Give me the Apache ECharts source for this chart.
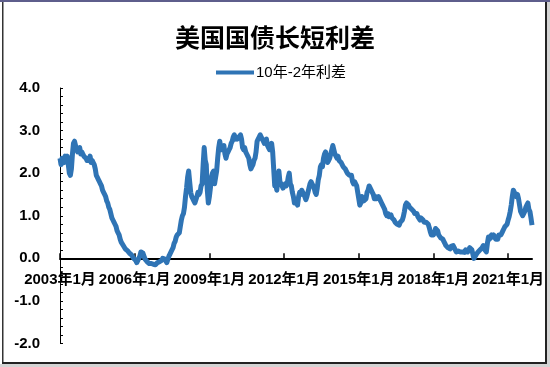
<!DOCTYPE html>
<html>
<head>
<meta charset="utf-8">
<script src="https://cdn.jsdelivr.net/npm/echarts@6/dist/echarts.min.js"></script>
<style>
html,body{margin:0;padding:0;background:#fff;}
#chart{width:550px;height:367px;}
</style>
</head>
<body>
<div id="chart"></div>
<script>
const titleText = '美国国债长短利差';
const seriesName = '10年-2年利差';
const yTickLabels = ['-2.0','-1.0','0.0','1.0','2.0','3.0','4.0'];
const xTickYears = [2003, 2006, 2009, 2012, 2015, 2018, 2021];
const startYear = 2003;

// semi-monthly values (1st half, 2nd half of each month), Jan..Dec
const y2003 = [2.35,2.2, 2.35,2.3, 2.25,2.4, 2.35,2.4, 2.2,2.0, 1.95,2.1, 2.45,2.7, 2.75,2.65, 2.55,2.5, 2.55,2.6, 2.45,2.5, 2.45,2.4];
const y2004 = [2.4,2.35, 2.3,2.35, 2.3,2.4, 2.25,2.3, 2.25,2.2, 2.1,1.95, 1.9,1.85, 1.8,1.75, 1.7,1.6, 1.55,1.5, 1.45,1.35, 1.3,1.2];
const y2005 = [1.15,1.05, 0.95,0.9, 0.85,0.8, 0.75,0.65, 0.6,0.55, 0.45,0.38, 0.35,0.3, 0.28,0.22, 0.2,0.18, 0.15,0.12, 0.1,0.08, 0.05,0.0];
const y2006 = [0.02,-0.05, -0.1,-0.08, 0.0,0.05, 0.15,0.18, 0.12,0.05, -0.02,-0.05, -0.08,-0.1, -0.12,-0.1, -0.12,-0.15, -0.14,-0.16, -0.15,-0.12, -0.1,-0.12];
const y2007 = [-0.08,-0.1, -0.05,0.0, 0.02,-0.02, -0.05,-0.1, -0.02,0.05, 0.1,0.15, 0.15,0.25, 0.35,0.4, 0.5,0.55, 0.55,0.6, 0.75,0.9, 1.0,1.05];
const y2008 = [1.2,1.45, 1.65,1.9, 2.05,1.8, 1.55,1.45, 1.4,1.35, 1.3,1.3, 1.45,1.55, 1.5,1.55, 1.7,1.75, 2.2,2.6, 2.3,2.2, 1.6,1.3];
const y2009 = [1.45,1.65, 1.9,2.0, 2.05,1.75, 1.9,2.05, 2.35,2.6, 2.75,2.6, 2.55,2.6, 2.65,2.45, 2.35,2.45, 2.5,2.55, 2.6,2.7, 2.75,2.85];
const y2010 = [2.9,2.8, 2.85,2.8, 2.8,2.85, 2.9,2.8, 2.6,2.55, 2.6,2.5, 2.45,2.4, 2.35,2.2, 2.1,2.15, 2.2,2.3, 2.35,2.5, 2.75,2.8];
const y2011 = [2.85,2.9, 2.85,2.8, 2.75,2.7, 2.75,2.8, 2.65,2.6, 2.55,2.6, 2.7,2.5, 2.1,1.7, 1.75,1.6, 1.85,2.05, 1.8,1.75, 1.7,1.65];
const y2012 = [1.7,1.75, 1.7,1.75, 1.9,2.0, 1.75,1.7, 1.55,1.45, 1.3,1.35, 1.3,1.25, 1.45,1.55, 1.5,1.6, 1.55,1.5, 1.45,1.38, 1.45,1.55];
const y2013 = [1.65,1.75, 1.8,1.75, 1.7,1.65, 1.55,1.5, 1.65,1.85, 1.95,2.15, 2.2,2.15, 2.35,2.45, 2.5,2.35, 2.25,2.3, 2.35,2.45, 2.55,2.65];
const y2014 = [2.55,2.45, 2.4,2.35, 2.4,2.3, 2.3,2.25, 2.2,2.15, 2.15,2.1, 2.05,2.0, 2.0,1.95, 1.95,1.95, 1.8,1.75, 1.8,1.75, 1.7,1.55];
const y2015 = [1.4,1.25, 1.3,1.45, 1.45,1.35, 1.35,1.4, 1.55,1.6, 1.7,1.72, 1.6,1.55, 1.5,1.4, 1.45,1.4, 1.4,1.45, 1.4,1.35, 1.3,1.25];
const y2016 = [1.2,1.15, 1.05,1.0, 1.05,0.98, 1.0,1.02, 0.95,0.95, 0.9,0.85, 0.82,0.8, 0.8,0.78, 0.85,0.88, 0.9,0.98, 1.1,1.25, 1.3,1.28];
const y2017 = [1.25,1.2, 1.2,1.15, 1.15,1.1, 1.05,1.05, 1.05,0.98, 0.95,0.9, 0.95,0.95, 0.9,0.85, 0.82,0.85, 0.85,0.8, 0.72,0.62, 0.55,0.55];
const y2018 = [0.55,0.6, 0.7,0.72, 0.65,0.55, 0.52,0.48, 0.48,0.45, 0.4,0.35, 0.3,0.28, 0.25,0.22, 0.22,0.28, 0.3,0.3, 0.25,0.22, 0.15,0.15];
const y2019 = [0.17,0.17, 0.15,0.16, 0.15,0.12, 0.14,0.2, 0.18,0.15, 0.2,0.25, 0.22,0.2, 0.1,0.0, -0.02,0.08, 0.12,0.15, 0.18,0.2, 0.2,0.25];
const y2020 = [0.3,0.22, 0.18,0.15, 0.35,0.5, 0.45,0.48, 0.55,0.5, 0.55,0.5, 0.45,0.42, 0.45,0.55, 0.55,0.55, 0.6,0.65, 0.7,0.75, 0.78,0.8];
const y2021 = [0.9,0.98, 1.1,1.25, 1.45,1.6, 1.55,1.5, 1.45,1.5, 1.4,1.25, 1.1,1.05, 1.0,1.05, 1.1,1.2, 1.25,1.3, 1.15,1.1, 0.95,0.78];

const yearly = [y2003,y2004,y2005,y2006,y2007,y2008,y2009,y2010,y2011,y2012,y2013,y2014,y2015,y2016,y2017,y2018,y2019,y2020,y2021];

const categories = [];
const values = [];
yearly.forEach((arr, yi) => {
  const yr = startYear + yi;
  arr.forEach((v, i) => {
    const m = Math.floor(i / 2) + 1;
    const d = i % 2 === 0 ? '01' : '16';
    categories.push(yr + '-' + String(m).padStart(2, '0') + '-' + d);
    values.push(v);
  });
});

const tickSet = new Set(xTickYears.map(y => y + '-01-01'));
const numFont = '"Liberation Sans", "Noto Sans CJK SC", sans-serif';

const gridTop = 88, gridBottom = 23.5, chartH = 367;
const yMin = -2, yMax = 4;
const plotH = chartH - gridTop - gridBottom;
const zeroOffset = -plotH * (0 - yMin) / (yMax - yMin);

const chart = echarts.init(document.getElementById('chart'), null, {renderer: 'canvas'});
chart.setOption({
  animation: false,
  backgroundColor: '#fff',
  title: {
    text: titleText,
    left: 'center',
    top: 20,
    textStyle: {fontSize: 25, fontWeight: 'bold', color: '#000', fontFamily: '"Noto Sans CJK SC", sans-serif'}
  },
  legend: {
    data: [seriesName],
    left: 211,
    top: 60,
    icon: 'rect',
    itemWidth: 38,
    itemHeight: 4,
    itemGap: 0,
    textStyle: {fontSize: 15, color: '#000', fontFamily: numFont, padding: [0,0,0,-3]}
  },
  grid: {left: 60, right: 18, top: gridTop, bottom: gridBottom, containLabel: false},
  xAxis: {
    type: 'category',
    data: categories,
    boundaryGap: false,
    position: 'bottom',
    offset: zeroOffset,
    axisLine: {onZero: false, lineStyle: {color: '#000', width: 2}},
    axisTick: {
      inside: true, length: 5,
      interval: (idx, val) => tickSet.has(val),
      lineStyle: {color: '#000', width: 1.5}
    },
    axisLabel: {
      interval: (idx, val) => tickSet.has(val),
      formatter: v => parseInt(v.slice(0, 4), 10) + '年1月',
      margin: 14,
      fontSize: 15, fontWeight: 'bold', color: '#000', fontFamily: numFont
    },
    splitLine: {show: false}
  },
  yAxis: {
    type: 'value',
    min: yMin, max: yMax, interval: 1,
    axisLine: {show: true, lineStyle: {color: '#000', width: 1}},
    axisTick: {show: true, inside: true, length: 3, lineStyle: {color: '#000'}},
    minorTick: {show: true, splitNumber: 5, length: 3, lineStyle: {color: '#000'}},
    axisLabel: {
      formatter: v => yTickLabels[Math.round(v) + 2],
      margin: 20,
      fontSize: 15, fontWeight: 'bold', color: '#000', fontFamily: numFont
    },
    splitLine: {show: false}
  },
  series: [{
    name: seriesName,
    type: 'line',
    data: values,
    symbol: 'none',
    smooth: false,
    lineStyle: {color: '#2f74b5', width: 5, join: 'round'},
    itemStyle: {color: '#2f74b5'}
  }],
  graphic: [
    {type: 'rect', shape: {x: 0, y: 0, width: 550, height: 2}, style: {fill: '#5e5e8c'}, z: 100},
    {type: 'rect', shape: {x: 2, y: 2, width: 1.5, height: 362}, style: {fill: '#333'}, z: 100},
    {type: 'rect', shape: {x: 545, y: 2, width: 2, height: 362}, style: {fill: '#222'}, z: 100},
    {type: 'rect', shape: {x: 2, y: 362, width: 545, height: 2}, style: {fill: '#222'}, z: 100},
    {type: 'rect', shape: {x: 547, y: 2, width: 3, height: 365}, style: {fill: '#d4d4d4'}, z: 100},
    {type: 'rect', shape: {x: 0, y: 364, width: 550, height: 3}, style: {fill: '#d4d4d4'}, z: 100}
  ]
});
</script>
</body>
</html>
